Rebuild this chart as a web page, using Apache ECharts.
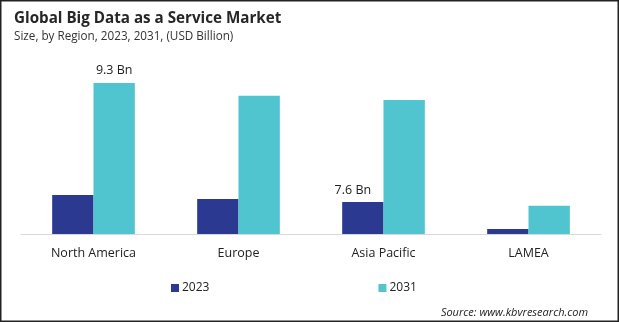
<!DOCTYPE html>
<html><head><meta charset="utf-8">
<script src="https://cdn.jsdelivr.net/npm/echarts@6/dist/echarts.min.js"></script>
<style>html,body{margin:0;padding:0;background:#fff}#c{width:619px;height:322px}</style>
</head><body><div id="c"></div>
<script>
const categories = ['North America', 'Europe', 'Asia Pacific', 'LAMEA'];
const seriesNames = ['2023', '2031'];
const values2023 = [2.4, 2.15, 1.97, 0.31];
const values2031 = [9.3, 8.52, 8.25, 1.74];
const labels2023 = ['', '', '7.6 Bn', ''];
const labels2031 = ['9.3 Bn', '', '', ''];

const FONT = '"Open Sans", "Noto Sans", sans-serif';
function mk(vals, labs, extra) {
  return vals.map((v, i) => labs[i] ? {value: v, label: Object.assign({show: true, formatter: labs[i]}, extra || {})} : v);
}
const chart = echarts.init(document.getElementById('c'), null, {renderer: 'canvas'});
chart.setOption({
  animation: false,
  textStyle: {fontFamily: FONT},
  title: {
    text: 'Global Big Data as a Service Market',
    subtext: 'Size, by Region, 2023, 2031, (USD Billion)',
    left: 9, top: 6, itemGap: 5,
    textStyle: {fontFamily: FONT, fontSize: 15.2, fontWeight: 'bold', color: '#262626'},
    subtextStyle: {fontFamily: FONT, fontSize: 11.7, color: '#333'}
  },
  legend: {
    data: seriesNames, left: 166, top: 277, itemWidth: 8, itemHeight: 8, itemGap: 169,
    icon: 'rect',
    textStyle: {fontFamily: FONT, fontSize: 12, color: '#222', padding: [0,0,0,-2]}
  },
  grid: {left: 21, right: 18, top: 71.6, bottom: 88},
  xAxis: {
    type: 'category', data: categories,
    axisLine: {lineStyle: {color: '#d9d9d9'}}, axisTick: {show: false},
    axisLabel: {fontFamily: FONT, fontSize: 12.5, color: '#222', margin: 13}
  },
  yAxis: {type: 'value', min: 0, max: 10, show: false, splitLine: {show: false}},
  series: [
    {name: seriesNames[0], type: 'bar', barGap: '0%', barCategoryGap: '43%',
     itemStyle: {color: '#2B3990'},
     label: {show: false, position: 'top', fontFamily: FONT, fontSize: 12.5, color: '#222', distance: 5},
     data: mk(values2023, labels2023, {offset: [-10, 0]})},
    {name: seriesNames[1], type: 'bar',
     itemStyle: {color: '#50C4CF'},
     label: {show: false, position: 'top', fontFamily: FONT, fontSize: 12.5, color: '#222', distance: 6},
     data: mk(values2031, labels2031)}
  ],
  graphic: [
    {type: 'text', right: 31, top: 307, style: {text: 'Source: www.kbvresearch.com', font: 'italic 11px ' + FONT, fill: '#222'}},
    {type: 'rect', shape: {x: 0.75, y: 0.75, width: 617.5, height: 320.5}, style: {fill: 'none', stroke: '#222', lineWidth: 1.5}}
  ]
});
</script></body></html>
